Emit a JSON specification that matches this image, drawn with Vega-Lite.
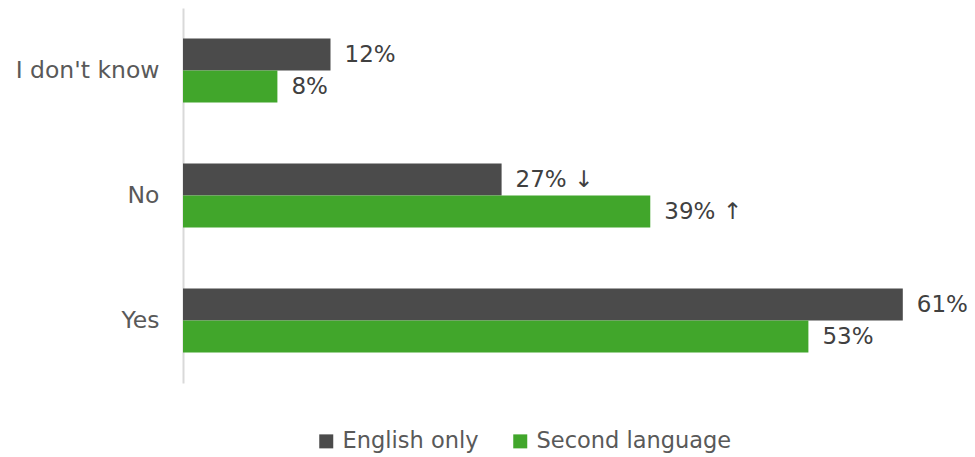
{
  "$schema": "https://vega.github.io/schema/vega-lite/v6.json",
  "autosize": {"type": "none"},
  "padding": {"left": 183, "top": 8, "right": 25, "bottom": 74},
  "width": 767,
  "height": 375,
  "background": "white",
  "config": {
    "view": {"stroke": null},
    "font": "DejaVu Sans"
  },
  "data": {
    "values": [
      {"answer": "I don't know", "group": "English only", "value": 12.5, "label": "12%"},
      {"answer": "I don't know", "group": "Second language", "value": 8, "label": "8%"},
      {"answer": "No", "group": "English only", "value": 27, "label": "27% ↓"},
      {"answer": "No", "group": "Second language", "value": 39.6, "label": "39% ↑"},
      {"answer": "Yes", "group": "English only", "value": 61, "label": "61%"},
      {"answer": "Yes", "group": "Second language", "value": 53, "label": "53%"}
    ]
  },
  "encoding": {
    "y": {
      "field": "answer",
      "type": "nominal",
      "sort": ["I don't know", "No", "Yes"],
      "scale": {"paddingInner": 0.488, "paddingOuter": 0.244},
      "axis": {
        "title": null,
        "ticks": false,
        "labelFontSize": 23.5,
        "labelColor": "#595959",
        "labelPadding": 24,
        "domainColor": "#d9d9d9",
        "domainWidth": 2,
        "labelFont": "DejaVu Sans",
        "labelLimit": 300
      }
    },
    "yOffset": {
      "field": "group",
      "type": "nominal",
      "sort": ["English only", "Second language"],
      "scale": {"paddingInner": 0, "paddingOuter": 0}
    },
    "x": {
      "field": "value",
      "type": "quantitative",
      "scale": {"domain": [0, 65], "nice": false},
      "axis": null
    }
  },
  "layer": [
    {
      "mark": {"type": "bar"},
      "encoding": {
        "color": {
          "field": "group",
          "type": "nominal",
          "sort": ["English only", "Second language"],
          "scale": {"domain": ["English only", "Second language"], "range": ["#4b4b4b", "#41a62b"]},
          "legend": {
            "title": null,
            "orient": "none",
            "direction": "horizontal",
            "legendX": 132,
            "legendY": 422,
            "symbolType": "square",
            "symbolSize": 196,
            "symbolStrokeWidth": 0,
            "labelFontSize": 22.5,
            "labelColor": "#595959",
            "labelOffset": 5,
            "labelLimit": 400,
            "columnPadding": 30,
            "labelFont": "DejaVu Sans"
          }
        }
      }
    },
    {
      "mark": {"type": "text", "align": "left", "baseline": "middle", "dx": 14, "fontSize": 23, "color": "#404040", "font": "DejaVu Sans"},
      "encoding": {
        "text": {"field": "label"}
      }
    }
  ]
}
